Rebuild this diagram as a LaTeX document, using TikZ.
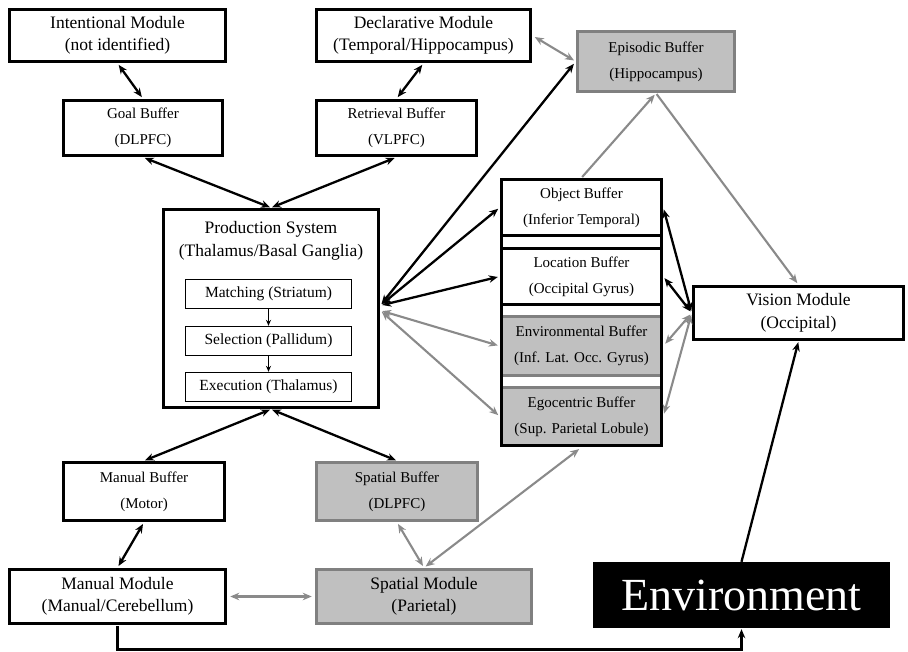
\documentclass[tikz,border=0pt]{standalone}
\usepackage{fontspec}
\setmainfont{Liberation Serif}
\usetikzlibrary{arrows.meta}
\definecolor{boxgray}{RGB}{192,192,192}
\definecolor{edgegray}{RGB}{128,128,128}
\definecolor{arrgray}{RGB}{138,138,138}
\tikzset{
  box/.style={rectangle, draw=black, line width=3.5pt, fill=white, inner sep=0pt, align=center},
  modbox/.style={box, font=\fontsize{17.5}{22.5}\selectfont},
  bufbox/.style={box, font=\fontsize{15}{26}\selectfont},
  greybox/.style={fill=boxgray, draw=edgegray},
  subbox/.style={rectangle, draw=black, line width=1.3pt, fill=white, inner sep=0pt,
    minimum width=166pt, minimum height=29pt, font=\fontsize{15.5}{18}\selectfont},
  blk/.style={draw=black, line width=2.3pt, {Stealth[length=9pt,width=7.5pt]}-{Stealth[length=9pt,width=7.5pt]}},
  gry/.style={draw=arrgray, line width=2.1pt, {Stealth[length=9pt,width=7.5pt]}-{Stealth[length=9pt,width=7.5pt]}},
  blkone/.style={draw=black, line width=2.3pt, -{Stealth[length=9pt,width=7.5pt]}},
  gryone/.style={draw=arrgray, line width=2.1pt, -{Stealth[length=9pt,width=7.5pt]}},
  thin/.style={draw=black, line width=1.1pt, -{Stealth[length=6pt,width=5pt]}}
}
\begin{document}
\begin{tikzpicture}[x=1pt,y=-1pt]
\useasboundingbox (0,0) rectangle (908,652);
% top modules and buffers
\node[modbox, minimum width=216pt, minimum height=52pt] (intent) at (117.5,35.5) {Intentional Module\\(not identified)};
\node[modbox, minimum width=214pt, minimum height=52pt] (decl) at (423.5,35.5) {Declarative Module\\(Temporal/Hippocampus)};
\node[bufbox, minimum width=159pt, minimum height=55pt] (goal) at (143,128) {Goal Buffer\\(DLPFC)};
\node[bufbox, minimum width=160pt, minimum height=55pt] (retr) at (396.5,128) {Retrieval Buffer\\(VLPFC)};
\node[bufbox, greybox, minimum width=157pt, minimum height=60pt] (epi) at (656,61.5) {Episodic Buffer\\(Hippocampus)};
% production system
\node[box, minimum width=215pt, minimum height=198pt] (prod) at (271,308.5) {};
\node[font=\fontsize{17.5}{22.5}\selectfont, align=center, inner sep=0pt] (prodtitle) at (271,241) {Production System\\(Thalamus/Basal Ganglia)};
\node[subbox] (match) at (268.5,294) {Matching (Striatum)};
\node[subbox] (sel) at (268.5,341) {Selection (Pallidum)};
\node[subbox] (exe) at (268.5,387) {Execution (Thalamus)};
\draw[thin] (match.south) -- (sel.north);
\draw[thin] (sel.south) -- (exe.north);
% visual buffer stack
\node[bufbox, minimum width=160pt, minimum height=56pt] (obj) at (581.5,207.5) {Object Buffer\\(Inferior Temporal)};
\node[bufbox, minimum width=160pt, minimum height=56pt] (loc) at (581.5,276.5) {Location Buffer\\(Occipital Gyrus)};
\node[bufbox, greybox, minimum width=160pt, minimum height=59pt] (envbuf) at (581.5,346) {Environmental Buffer\\(Inf. Lat. Occ. Gyrus)};
\node[bufbox, greybox, minimum width=160pt, minimum height=58pt] (ego) at (581.5,416.5) {Egocentric Buffer\\(Sup. Parietal Lobule)};
\draw[line width=3.5pt] (501.5,179.5) rectangle (661.5,445.5);
% vision
\node[modbox, minimum width=210pt, minimum height=53pt] (vision) at (798.5,313) {Vision Module\\(Occipital)};
% bottom
\node[bufbox, minimum width=161pt, minimum height=58pt] (mbuf) at (144,491.5) {Manual Buffer\\(Motor)};
\node[bufbox, greybox, minimum width=161pt, minimum height=58pt] (sbuf) at (397,491.5) {Spatial Buffer\\(DLPFC)};
\node[modbox, minimum width=216pt, minimum height=54pt] (mmod) at (117.5,596.5) {Manual Module\\(Manual/Cerebellum)};
\node[modbox, greybox, minimum width=215pt, minimum height=54pt] (smod) at (424,596.5) {Spatial Module\\(Parietal)};
\node[rectangle, fill=black, inner sep=0pt, minimum width=297pt, minimum height=66pt, text=white,
  font=\fontsize{46}{50}\selectfont] (envir) at (741.5,595) {Environment};
\coordinate (lowline) at (400,649.5);
% connectors
\draw[blk, shorten <=2pt, shorten >=2pt] (intent.south) -- (goal.north);
\draw[blk, shorten <=2pt, shorten >=2pt] (decl.south) -- (retr.north);
\draw[blk, shorten <=2pt, shorten >=1pt] (goal.south) -- (prod.north);
\draw[blk, shorten <=2pt, shorten >=1pt] (retr.south) -- (prod.north);
\draw[blk, shorten <=1pt, shorten >=1pt] (prod.south) -- (mbuf.north);
\draw[blk, shorten <=1pt, shorten >=1pt] (prod.south) -- (sbuf.north);
\draw[blk, shorten <=2pt, shorten >=2pt] (mbuf.south) -- (mmod.north);
\draw[gry, shorten <=2pt, shorten >=2pt] (sbuf.south) -- (smod.north);
\draw[gry, shorten <=3pt, shorten >=2pt] (ego.south) -- (smod.north);
\draw[gry, shorten <=3pt, shorten >=3pt] (mmod.east) -- (smod.west);
\draw[gry, shorten <=3pt, shorten >=2pt] (decl.east) -- (epi.west);
\draw[blk, shorten <=2pt, shorten >=3pt] ([yshift=3pt]prod.east) -- (epi.west);
\draw[blk, shorten <=2pt, shorten >=2pt] ([yshift=3pt]prod.east) -- (obj.west);
\draw[blk, shorten <=2pt, shorten >=2pt] ([yshift=3pt]prod.east) -- (loc.west);
\draw[gry, shorten <=2pt, shorten >=2pt] ([yshift=-2pt]prod.east) -- (envbuf.west);
\draw[gry, shorten <=2pt, shorten >=2pt] ([yshift=-2pt]prod.east) -- (ego.west);
\draw[gryone, shorten <=1pt, shorten >=2pt] (obj.north) -- (epi.south);
\draw[gryone, shorten <=1pt, shorten >=2pt] (epi.south) -- (vision.north);
\draw[blk, shorten <=2pt, shorten >=2pt] (vision.west) -- (obj.east);
\draw[blk, shorten <=2pt, shorten >=2pt] (vision.west) -- (loc.east);
\draw[gry, shorten <=2pt, shorten >=3pt] (vision.west) -- (envbuf.east);
\draw[gry, shorten <=2pt, shorten >=3pt] (vision.west) -- (ego.east);
\draw[blkone, shorten >=1pt] (envir.north) -- (vision.south);
\draw[blkone, shorten <=1pt, shorten >=1pt] (mmod.south) |- (lowline) -| (envir.south);
\end{tikzpicture}
\end{document}
